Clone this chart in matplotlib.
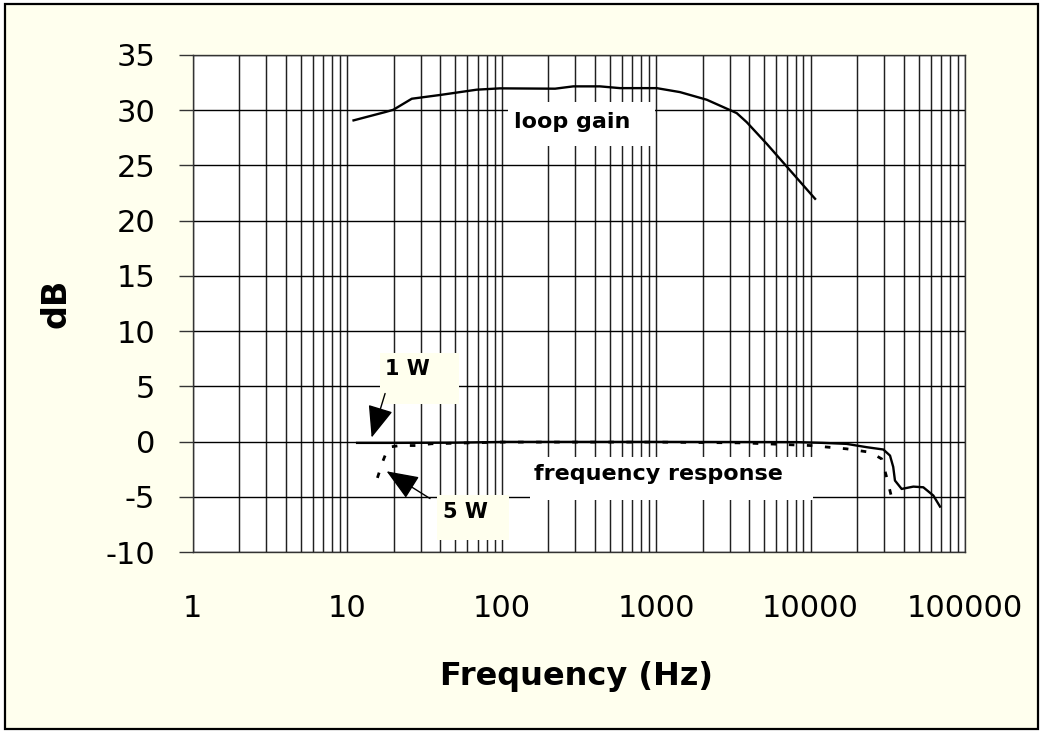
import matplotlib
matplotlib.use("Agg")
import matplotlib.pyplot as plt
from matplotlib.patches import Rectangle
from matplotlib.ticker import LogLocator, NullFormatter

plt.rcParams['font.family'] = ['DejaVu Sans']

# ---- data ----
loop_freq = [11, 17.6, 19.9, 26.2, 40.9, 69, 97.6, 222, 291, 433, 584, 1009,
             1428, 2128, 3326, 3860, 5204, 7012, 10700]
loop_db = [29.08, 29.83, 30.04, 31.04, 31.4, 31.86, 31.98, 31.95, 32.16, 32.16,
           32.0, 32.0, 31.64, 30.95, 29.74, 28.92, 26.96, 24.9, 21.98]

w1_freq = [11.6, 20, 50, 108, 1000, 8140, 12000, 17100, 23100, 29600, 32700,
           34300, 35200, 38900, 46300, 53700, 62400, 68900]
w1_db = [-0.12, -0.12, -0.1, -0.03, -0.03, -0.05, -0.12, -0.21, -0.51, -0.72,
         -1.27, -2.3, -3.53, -4.29, -4.08, -4.14, -4.89, -5.89]

w5_freq = [15.7, 17, 18.5, 22, 28.2, 35, 100, 1000, 3650, 9930, 17100, 24300,
           28900, 31100, 34300]
w5_db = [-3.29, -1.8, -0.51, -0.36, -0.36, -0.2, -0.05, -0.05, -0.12, -0.36,
         -0.66, -0.97, -1.57, -3.23, -5.64]

x_ticks = [1, 10, 100, 1000, 10000, 100000]
x_tick_labels = ['1', '10', '100', '1000', '10000', '100000']
y_ticks = [-10, -5, 0, 5, 10, 15, 20, 25, 30, 35]
y_tick_labels = ['-10', '-5', '0', '5', '10', '15', '20', '25', '30', '35']

IVORY = '#FFFFEE'

fig = plt.figure(figsize=(10.43, 7.33), dpi=100)
fig.patch.set_facecolor('white')
# outer frame
W, H = 1043, 733
fig.patches.append(Rectangle((5 / W, 4 / H), (1038 - 5) / W, (729 - 4) / H,
                             transform=fig.transFigure, facecolor=IVORY,
                             edgecolor='black', linewidth=1.6, zorder=-10))

ax = fig.add_axes([192.7 / W, 1 - 552 / H, (965 - 192.7) / W, (552 - 55) / H])
ax.set_facecolor('white')
ax.set_xscale('log')
ax.set_xlim(1, 100000)
ax.set_ylim(-10, 35)

ax.set_xticks(x_ticks)
ax.set_xticklabels(x_tick_labels)
ax.xaxis.set_minor_locator(LogLocator(base=10, subs=range(2, 10), numticks=20))
ax.xaxis.set_minor_formatter(NullFormatter())
ax.set_yticks(y_ticks)
ax.set_yticklabels(y_tick_labels)

ax.tick_params(axis='x', which='both', length=0, labelsize=22, pad=30)
ax.tick_params(axis='y', which='major', length=9.9, width=1.0, color='#333333',
               labelsize=22, pad=17)

ax.grid(True, axis='x', which='both', color='#202020', linewidth=1.05, zorder=0)
ax.grid(True, axis='y', which='major', color='black', linewidth=1.0, zorder=0)
ax.set_axisbelow(True)
for s in ax.spines.values():
    s.set_color('#333333')
    s.set_linewidth(1.0)

# text boxes (covering grid)
boxes = [
    ((110, 26.8), (984, 30.7), 'white'),
    ((153, -5.25), (10400, -1.36), 'white'),
    ((16.3, 3.44), (53.2, 8.06), IVORY),
    ((38.2, -8.88), (111.7, -4.8), IVORY),
]
for (x0, y0), (x1, y1), fc in boxes:
    ax.add_patch(Rectangle((x0, y0), x1 - x0, y1 - y0, facecolor=fc,
                           edgecolor='none', zorder=1.5))

# curves
ax.plot(loop_freq, loop_db, color='black', linewidth=1.7, zorder=3)
ax.plot(w1_freq, w1_db, color='black', linewidth=1.7, zorder=3)
ax.plot(w5_freq, w5_db, color='black', linewidth=2.0, linestyle=(0, (2, 4.5)),
        zorder=3.5)

# labels
ax.text(286, 28.9, 'loop gain', fontsize=16, fontweight='bold',
        ha='center', va='center', zorder=4)
ax.text(1037, -2.9, 'frequency response', fontsize=16, fontweight='bold',
        ha='center', va='center', zorder=4)
ax.text(24.4, 6.6, '1 W', fontsize=15, fontweight='bold',
        ha='center', va='center', zorder=4)
ax.text(58, -6.4, '5 W', fontsize=15, fontweight='bold',
        ha='center', va='center', zorder=4)

arrowprops = dict(arrowstyle='-|>,head_length=2.0,head_width=0.8',
                  mutation_scale=10, color='black', linewidth=1.0,
                  shrinkA=0, shrinkB=0)
ax.annotate('', xy=(14.4, 0.36), xytext=(17.6, 4.35), arrowprops=arrowprops,
            zorder=4)
ax.annotate('', xy=(18.0, -2.69), xytext=(34.4, -5.16), arrowprops=arrowprops,
            zorder=4)

ax.set_xlabel('Frequency (Hz)', fontsize=23, fontweight='bold')
ax.set_ylabel('dB', fontsize=24, fontweight='bold')
ax.xaxis.set_label_coords(0.4976, -0.2515)
ax.xaxis.label.set_va('center')
ax.yaxis.set_label_coords(-0.177, 0.5)
ax.yaxis.label.set_va('center')

fig.savefig('out.png', dpi=100, facecolor=fig.get_facecolor())
